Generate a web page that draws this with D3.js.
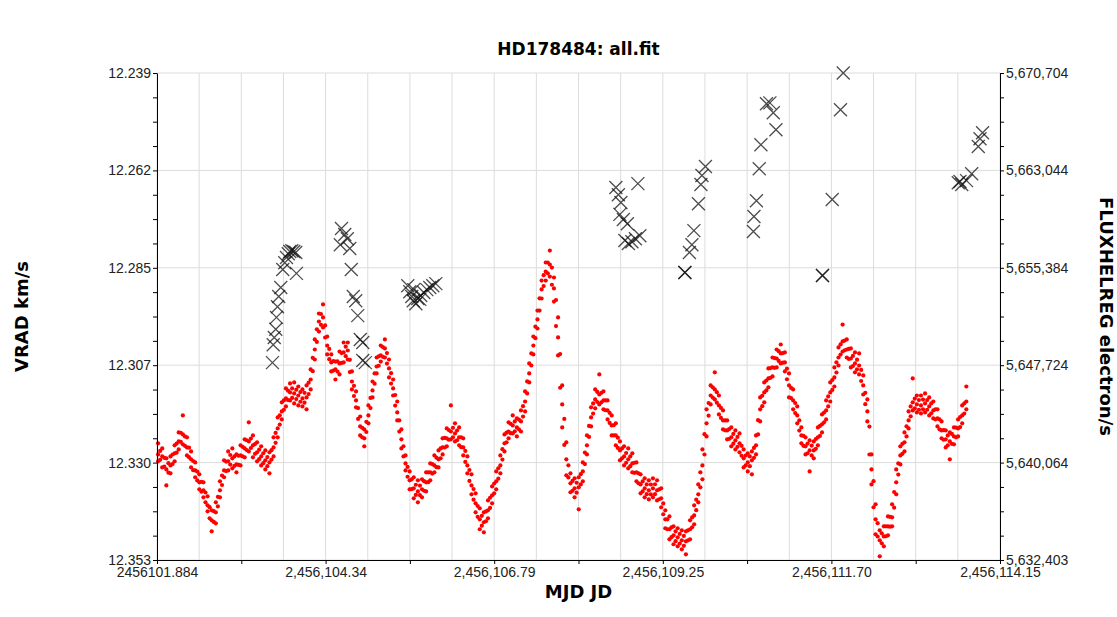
<!DOCTYPE html>
<html>
<head>
<meta charset="utf-8">
<script src="https://cdn.jsdelivr.net/npm/d3@7/dist/d3.min.js"></script>
<style>
  body { margin: 0; background: #fff; }
  svg { display: block; font-family: "DejaVu Sans", sans-serif; }
  .axis text { font-size: 14px; fill: #222; }
  .axis path, .axis line { stroke: #000; }
  .grid line { stroke: #dcdcdc; stroke-width: 1; }
  .title { font-size: 17px; font-weight: bold; }
  .label { font-size: 18px; font-weight: bold; }
</style>
</head>
<body>
<div id="chartDiv"></div>
<script>
// flux samples (right axis), band: upper, middle, lower edge per time
let fluxTime = [
  2456101.90, 2456101.96, 2456102.02, 2456102.08, 2456102.14, 2456102.20, 2456102.26, 2456102.32, 2456102.38, 2456102.44,
  2456102.50, 2456102.56, 2456102.62, 2456102.68, 2456102.74, 2456102.80, 2456102.86, 2456102.92, 2456102.98, 2456103.04,
  2456103.10, 2456103.16, 2456103.22, 2456103.28, 2456103.34, 2456103.40, 2456103.46, 2456103.52, 2456103.58, 2456103.64,
  2456103.70, 2456103.76, 2456103.82, 2456103.88, 2456103.94, 2456104.00, 2456104.06, 2456104.12, 2456104.18, 2456104.24,
  2456104.30, 2456104.36, 2456104.42, 2456104.48, 2456104.54, 2456104.60, 2456104.66, 2456104.72, 2456104.78, 2456104.84,
  2456104.90, 2456104.96, 2456105.02, 2456105.08, 2456105.14, 2456105.20, 2456105.26, 2456105.32, 2456105.38, 2456105.44,
  2456105.50, 2456105.56, 2456105.62, 2456105.68, 2456105.74, 2456105.80, 2456105.86, 2456105.92, 2456105.98, 2456106.04,
  2456106.10, 2456106.16, 2456106.22, 2456106.28, 2456106.34, 2456106.40, 2456106.46, 2456106.52, 2456106.58, 2456106.64,
  2456106.70, 2456106.76, 2456106.82, 2456106.88, 2456106.94, 2456107.00, 2456107.06, 2456107.12, 2456107.18, 2456107.24,
  2456107.30, 2456107.36, 2456107.42, 2456107.48, 2456107.54, 2456107.60, 2456107.66, 2456107.72, 2456107.78, 2456107.84,
  2456107.90, 2456107.96, 2456108.02, 2456108.08, 2456108.14, 2456108.20, 2456108.26, 2456108.32, 2456108.38, 2456108.44,
  2456108.50, 2456108.56, 2456108.62, 2456108.68, 2456108.74, 2456108.80, 2456108.86, 2456108.92, 2456108.98, 2456109.04,
  2456109.10, 2456109.16, 2456109.22, 2456109.28, 2456109.34, 2456109.40, 2456109.46, 2456109.52, 2456109.58, 2456109.64,
  2456109.70, 2456109.76, 2456109.82, 2456109.88, 2456109.94, 2456110.00, 2456110.06, 2456110.12, 2456110.18, 2456110.24,
  2456110.30, 2456110.36, 2456110.42, 2456110.48, 2456110.54, 2456110.60, 2456110.66, 2456110.72, 2456110.78, 2456110.84,
  2456110.90, 2456110.96, 2456111.02, 2456111.08, 2456111.14, 2456111.20, 2456111.26, 2456111.32, 2456111.38, 2456111.44,
  2456111.50, 2456111.56, 2456111.62, 2456111.68, 2456111.74, 2456111.80, 2456111.86, 2456111.92, 2456111.98, 2456112.04,
  2456112.10, 2456112.16, 2456112.22, 2456112.28, 2456112.34, 2456112.40, 2456112.46, 2456112.52, 2456112.58, 2456112.64,
  2456112.70, 2456112.76, 2456112.82, 2456112.88, 2456112.94, 2456113.00, 2456113.06, 2456113.12, 2456113.18, 2456113.24,
  2456113.30, 2456113.36, 2456113.42, 2456113.48, 2456113.54, 2456113.60, 2456113.66
];
let fluxHigh = [
  5641580, 5641180, 5640400, 5640550, 5641420, 5642440, 5643770, 5642050, 5640940, 5640080,
  5639140, 5638510, 5637410, 5636310, 5636940, 5638590, 5640240, 5640940, 5641180, 5640710,
  5641420, 5641890, 5643230, 5642200, 5641660, 5641340, 5641020, 5640870, 5642050, 5643620,
  5644800, 5645900, 5646290, 5646370, 5646050, 5645820, 5646130, 5647390, 5649750, 5651790,
  5652500, 5649980, 5648570, 5648010, 5648800, 5649510, 5649510, 5647230, 5645660, 5643690,
  5642670, 5644560, 5646440, 5648330, 5649270, 5649750, 5648170, 5646600, 5644870, 5642670,
  5640630, 5639370, 5638910, 5638670, 5638750, 5639300, 5640000, 5640630, 5641020, 5641970,
  5642750, 5644560, 5643150, 5642830, 5641970, 5640550, 5639140, 5637650, 5636470, 5636150,
  5637090, 5638190, 5639370, 5640630, 5642280, 5643230, 5643770, 5643540, 5644170, 5645660,
  5647860, 5649980, 5652020, 5654380, 5655800, 5656740, 5654620, 5651480, 5646130, 5641660,
  5639220, 5638830, 5638910, 5640080, 5642200, 5644410, 5645820, 5647000, 5645660, 5644950,
  5643770, 5643150, 5641730, 5641340, 5641180, 5640790, 5640080, 5639140, 5638830, 5638670,
  5638830, 5638670, 5638040, 5636310, 5635830, 5635050, 5634900, 5634740, 5634660, 5635520,
  5636700, 5638350, 5641100, 5644250, 5646130, 5647160, 5645340, 5644170, 5643380, 5642830,
  5642590, 5642360, 5641100, 5640790, 5640940, 5642200, 5645190, 5646370, 5647470, 5648330,
  5648960, 5649350, 5648730, 5647080, 5645820, 5644480, 5642830, 5642050, 5641810, 5641730,
  5642830, 5643850, 5644950, 5646370, 5647550, 5649120, 5650920, 5649750, 5649040, 5648730,
  5648650, 5646920, 5645030, 5640710, 5636780, 5634740, 5635050, 5635830, 5636780, 5639530,
  5641340, 5642440, 5644090, 5646680, 5645340, 5645340, 5645500, 5645190, 5644870, 5644250,
  5643300, 5642590, 5642440, 5642830, 5643460, 5644560, 5646050
];
let fluxMid = [
  5640710, 5640550, 5639530, 5639840, 5640790, 5641730, 5642280, 5641260, 5640320, 5639450,
  5638510, 5637880, 5636700, 5635520, 5636150, 5637880, 5639450, 5640160, 5640400, 5639920,
  5640630, 5641180, 5641730, 5641420, 5640870, 5640550, 5640240, 5640080, 5641260, 5642750,
  5644090, 5645110, 5645580, 5645500, 5645340, 5645110, 5645190, 5646600, 5648960, 5651160,
  5651480, 5649270, 5647940, 5647390, 5647860, 5648730, 5648880, 5646440, 5644950, 5642910,
  5641970, 5643770, 5645740, 5647620, 5648490, 5649040, 5647470, 5645900, 5644010, 5641890,
  5640000, 5638670, 5638040, 5637800, 5637960, 5638510, 5639300, 5639840, 5640320, 5641260,
  5641970, 5642510, 5642360, 5642050, 5641260, 5639840, 5638270, 5636860, 5635600, 5635370,
  5636310, 5637490, 5638590, 5639840, 5641580, 5642510, 5642990, 5642830, 5643300, 5644870,
  5647080, 5649270, 5651320, 5653680, 5655090, 5655640, 5653760, 5649910, 5644640, 5640320,
  5638430, 5638040, 5638120, 5639370, 5641420, 5643620, 5645030, 5645420, 5644950, 5644170,
  5642990, 5642200, 5641020, 5640550, 5640320, 5640000, 5639300, 5638350, 5638040, 5637880,
  5638040, 5637880, 5637250, 5635600, 5634820, 5634340, 5634190, 5633950, 5633870, 5634820,
  5635910, 5637570, 5639840, 5643150, 5645340, 5645820, 5644560, 5643380, 5642590, 5642050,
  5641810, 5641580, 5640400, 5640080, 5640240, 5641420, 5644250, 5645580, 5646680, 5647550,
  5648250, 5648650, 5647940, 5646130, 5644950, 5643770, 5642200, 5641340, 5641020, 5641020,
  5642050, 5643070, 5644170, 5645580, 5646760, 5648330, 5649590, 5648960, 5648250, 5647860,
  5647700, 5646130, 5644090, 5639530, 5635600, 5633950, 5634260, 5635050, 5635760, 5638510,
  5640630, 5641660, 5643380, 5644800, 5644640, 5644560, 5644720, 5644480, 5644170, 5643540,
  5642590, 5641890, 5641730, 5642120, 5642750, 5643770, 5644870
];
let fluxLow = [
  5640160, 5639680, 5638270, 5639220, 5640160, 5641100, 5641500, 5640630, 5639680, 5638910,
  5637960, 5637330, 5636230, 5634660, 5635290, 5637330, 5638910, 5639450, 5639610, 5639300,
  5639840, 5640480, 5640940, 5640480, 5640160, 5639840, 5639530, 5639220, 5640550, 5642050,
  5643460, 5644480, 5644950, 5644720, 5644560, 5644480, 5644250, 5645820, 5648170, 5650370,
  5650690, 5648570, 5647230, 5646600, 5647000, 5647940, 5648170, 5645820, 5644410, 5642200,
  5641340, 5643150, 5645190, 5647080, 5648010, 5648330, 5646760, 5645340, 5643380, 5641180,
  5639450, 5637960, 5637250, 5636940, 5637330, 5637800, 5638670, 5639300, 5639680, 5640710,
  5641340, 5641890, 5641730, 5641420, 5640630, 5639220, 5637570, 5636150, 5634820, 5634580,
  5635680, 5636860, 5637960, 5639220, 5640940, 5641970, 5642360, 5642120, 5642510, 5644090,
  5646370, 5648570, 5650610, 5652970, 5654380, 5654690, 5652730, 5648490, 5642830, 5639060,
  5637730, 5637330, 5636390, 5638590, 5640710, 5642910, 5644330, 5644640, 5644250, 5643460,
  5642200, 5641420, 5640240, 5639840, 5639610, 5639300, 5638590, 5637650, 5637330, 5637170,
  5637330, 5637090, 5636550, 5634900, 5634030, 5633640, 5633480, 5633240, 5632850, 5634030,
  5635210, 5636940, 5638750, 5642120, 5644640, 5645030, 5643850, 5642670, 5641890, 5641340,
  5641100, 5640870, 5639680, 5639370, 5639140, 5640710, 5643300, 5644800, 5645980, 5646840,
  5647550, 5647860, 5647230, 5645190, 5644250, 5643150, 5641580, 5640710, 5639370, 5640400,
  5641420, 5642440, 5643460, 5644870, 5646050, 5647700, 5648800, 5648330, 5647550, 5647160,
  5647000, 5645420, 5643300, 5638350, 5634420, 5632690, 5633480, 5634340, 5635050, 5637570,
  5639920, 5640940, 5642750, 5644170, 5644010, 5643930, 5644010, 5643770, 5643540, 5642910,
  5641970, 5641260, 5640320, 5641500, 5642120, 5643150, 5644250
];

// second set of band dots, read between the columns above
let fluxTime2 = [
  2456101.93, 2456101.99, 2456102.05, 2456102.11, 2456102.17, 2456102.23, 2456102.29, 2456102.35, 2456102.41, 2456102.47,
  2456102.53, 2456102.59, 2456102.65, 2456102.71, 2456102.77, 2456102.83, 2456102.89, 2456102.95, 2456103.01, 2456103.07,
  2456103.13, 2456103.19, 2456103.25, 2456103.31, 2456103.37, 2456103.43, 2456103.49, 2456103.55, 2456103.61, 2456103.67,
  2456103.73, 2456103.79, 2456103.85, 2456103.91, 2456103.97, 2456104.03, 2456104.09, 2456104.15, 2456104.21, 2456104.27,
  2456104.33, 2456104.39, 2456104.45, 2456104.51, 2456104.57, 2456104.63, 2456104.69, 2456104.75, 2456104.81, 2456104.87,
  2456104.93, 2456104.99, 2456105.05, 2456105.11, 2456105.17, 2456105.23, 2456105.29, 2456105.35, 2456105.41, 2456105.47,
  2456105.53, 2456105.59, 2456105.65, 2456105.71, 2456105.77, 2456105.83, 2456105.89, 2456105.95, 2456106.01, 2456106.07,
  2456106.13, 2456106.19, 2456106.25, 2456106.31, 2456106.37, 2456106.43, 2456106.49, 2456106.55, 2456106.61, 2456106.67,
  2456106.73, 2456106.79, 2456106.85, 2456106.91, 2456106.97, 2456107.03, 2456107.09, 2456107.15, 2456107.21, 2456107.27,
  2456107.33, 2456107.39, 2456107.45, 2456107.51, 2456107.57, 2456107.63, 2456107.69, 2456107.75, 2456107.81, 2456107.87,
  2456107.93, 2456107.99, 2456108.05, 2456108.11, 2456108.17, 2456108.23, 2456108.29, 2456108.35, 2456108.41, 2456108.47,
  2456108.53, 2456108.59, 2456108.65, 2456108.71, 2456108.77, 2456108.83, 2456108.89, 2456108.95, 2456109.01, 2456109.07,
  2456109.13, 2456109.19, 2456109.25, 2456109.31, 2456109.37, 2456109.43, 2456109.49, 2456109.55, 2456109.61, 2456109.67,
  2456109.73, 2456109.79, 2456109.85, 2456109.91, 2456109.97, 2456110.03, 2456110.09, 2456110.15, 2456110.21, 2456110.27,
  2456110.33, 2456110.39, 2456110.45, 2456110.51, 2456110.57, 2456110.63, 2456110.69, 2456110.75, 2456110.81, 2456110.87,
  2456110.93, 2456110.99, 2456111.05, 2456111.11, 2456111.17, 2456111.23, 2456111.29, 2456111.35, 2456111.41, 2456111.47,
  2456111.53, 2456111.59, 2456111.65, 2456111.71, 2456111.77, 2456111.83, 2456111.89, 2456111.95, 2456112.01, 2456112.07,
  2456112.13, 2456112.19, 2456112.25, 2456112.31, 2456112.37, 2456112.43, 2456112.49, 2456112.55, 2456112.61, 2456112.67,
  2456112.73, 2456112.79, 2456112.85, 2456112.91, 2456112.97, 2456113.03, 2456113.09, 2456113.15, 2456113.21, 2456113.27,
  2456113.33, 2456113.39, 2456113.45, 2456113.51, 2456113.57, 2456113.63
];
let fluxUpperQ = [
  5640980, 5640440, 5640020, 5640700, 5641560, 5642410, 5642120, 5641240, 5640190, 5639360,
  5638550, 5637710, 5636560, 5636240, 5637370, 5639050, 5640140, 5640660, 5640550, 5640600,
  5641300, 5641820, 5641950, 5641520, 5641080, 5640800, 5640500, 5641040, 5642400, 5643780,
  5644950, 5645720, 5645900, 5645800, 5645610, 5645550, 5646350, 5648300, 5650550, 5651750,
  5650850, 5649000, 5648050, 5648020, 5648680, 5649180, 5648150, 5646100, 5644350, 5642800,
  5643270, 5645150, 5647080, 5648420, 5649150, 5648680, 5647100, 5645380, 5643380, 5641350,
  5639720, 5638750, 5638320, 5638260, 5638600, 5639300, 5639950, 5640450, 5641180, 5642000,
  5642620, 5642800, 5642580, 5642050, 5640980, 5639480, 5637980, 5636650, 5635880, 5636220,
  5637300, 5638420, 5639620, 5641120, 5642420, 5643120, 5643300, 5643450, 5644500, 5646450,
  5648650, 5650750, 5652980, 5654800, 5655800, 5655400, 5652850, 5648600, 5643500, 5639850,
  5638620, 5638480, 5639150, 5640850, 5642950, 5644720, 5645620, 5645550, 5644950, 5643980,
  5643000, 5642020, 5641180, 5640820, 5640550, 5640050, 5639220, 5638580, 5638350, 5638340,
  5638360, 5637950, 5636850, 5635600, 5634970, 5634660, 5634450, 5634300, 5634740, 5635750,
  5637150, 5639300, 5642300, 5644750, 5645980, 5645600, 5644360, 5643380, 5642700, 5642320,
  5642080, 5641380, 5640620, 5640550, 5641220, 5643400, 5645320, 5646520, 5647500, 5648280,
  5648830, 5648680, 5647450, 5645940, 5644750, 5643380, 5642160, 5641560, 5641400, 5641920,
  5642950, 5644000, 5645270, 5646560, 5647950, 5649360, 5649660, 5649000, 5648450, 5648160,
  5647350, 5645550, 5642900, 5638600, 5635300, 5634500, 5635050, 5635800, 5637750, 5640000,
  5641540, 5642920, 5644480, 5645100, 5644980, 5645020, 5644980, 5644720, 5644250, 5643460,
  5642620, 5642200, 5642320, 5642820, 5643650, 5644720
];
let fluxLowerQ = [
  5640280, 5639740, 5639270, 5639950, 5640840, 5641700, 5641380, 5640490, 5639470, 5638660,
  5637780, 5636940, 5635680, 5635400, 5636620, 5638300, 5639400, 5639910, 5639800, 5639880,
  5640550, 5641050, 5641210, 5640750, 5640330, 5640020, 5639780, 5640300, 5641620, 5643050,
  5644220, 5644980, 5645150, 5645060, 5644850, 5644780, 5645450, 5647250, 5649550, 5650900,
  5649900, 5648200, 5647300, 5647220, 5647900, 5648430, 5647180, 5645300, 5643500, 5642050,
  5642470, 5644350, 5646270, 5647680, 5648380, 5647850, 5646280, 5644550, 5642500, 5640550,
  5638950, 5637980, 5637520, 5637500, 5637850, 5638520, 5639200, 5639700, 5640400, 5641250,
  5641860, 5642050, 5641820, 5641280, 5640120, 5638620, 5637150, 5635800, 5635100, 5635450,
  5636500, 5637650, 5638800, 5640300, 5641660, 5642380, 5642520, 5642680, 5643680, 5645500,
  5647700, 5649850, 5652020, 5653950, 5654950, 5654050, 5650800, 5645950, 5641450, 5638900,
  5637850, 5637700, 5638350, 5639950, 5642080, 5643920, 5644830, 5644800, 5644180, 5643180,
  5642200, 5641220, 5640400, 5640050, 5639780, 5639260, 5638440, 5637800, 5637580, 5637560,
  5637580, 5637180, 5636000, 5634820, 5634200, 5633880, 5633700, 5633520, 5633950, 5634980,
  5636320, 5638120, 5640700, 5643750, 5645180, 5644780, 5643580, 5642600, 5641930, 5641550,
  5641300, 5640600, 5639850, 5639780, 5640440, 5642280, 5644500, 5645740, 5646730, 5647520,
  5648060, 5647920, 5646620, 5645140, 5643960, 5642580, 5641380, 5640800, 5640630, 5641150,
  5642160, 5643230, 5644480, 5645780, 5647150, 5648560, 5648900, 5648220, 5647660, 5647400,
  5646480, 5644660, 5640700, 5636550, 5634250, 5633720, 5634270, 5635020, 5636520, 5639120,
  5640750, 5642120, 5643700, 5644330, 5644220, 5644250, 5644220, 5643940, 5643470, 5642680,
  5641860, 5641420, 5641540, 5642050, 5642860, 5643920
];

// radial velocity points (left axis, inverted)
let vradTime = [
  2456103.564, 2456103.575, 2456103.590, 2456103.612, 2456103.622, 2456103.637, 2456103.655, 2456103.685,
  2456103.714, 2456103.743, 2456103.768, 2456103.794, 2456103.816, 2456103.845, 2456103.874, 2456103.903, 2456103.913,
  2456104.568, 2456104.616, 2456104.653, 2456104.551, 2456104.689, 2456104.711, 2456104.740, 2456104.776,
  2456104.805, 2456104.842, 2456104.878, 2456104.878, 2456104.915,
  2456105.533, 2456105.562, 2456105.591, 2456105.613, 2456105.650, 2456105.679, 2456105.722, 2456105.766,
  2456105.810, 2456105.853, 2456105.897, 2456105.941, 2456105.621, 2456105.708,
  2456108.561, 2456108.597, 2456108.881, 2456108.634, 2456108.619, 2456108.670, 2456108.728, 2456108.692,
  2456108.743, 2456108.794, 2456108.845, 2456108.910,
  2456109.565, 2456109.565, 2456109.631, 2456109.667, 2456109.696, 2456109.762, 2456109.798, 2456109.813, 2456109.864,
  2456110.562, 2456110.570, 2456110.606, 2456110.647, 2456110.671, 2456110.752, 2456110.802, 2456110.851, 2456110.890,
  2456111.567, 2456111.567, 2456111.709, 2456111.829, 2456111.869,
  2456113.543, 2456113.568, 2456113.593, 2456113.663, 2456113.738, 2456113.834, 2456113.859, 2456113.896
];
let vradValue = [
  12.3068, 12.3026, 12.3009, 12.2990, 12.2962, 12.2937, 12.2913, 12.2892,
  12.2850, 12.2834, 12.2822, 12.2813, 12.2808, 12.2806, 12.2808, 12.2810, 12.2859,
  12.2754, 12.2768, 12.2778, 12.2792, 12.2801, 12.2850, 12.2913, 12.2923,
  12.2958, 12.3014, 12.3021, 12.3063, 12.3068,
  12.2888, 12.2902, 12.2913, 12.2923, 12.2930, 12.2918, 12.2911, 12.2904,
  12.2897, 12.2892, 12.2888, 12.2883, 12.2897, 12.2920,
  12.2658, 12.2675, 12.2649, 12.2693, 12.2721, 12.2733, 12.2743, 12.2782,
  12.2789, 12.2785, 12.2778, 12.2771,
  12.2857, 12.2857, 12.2810, 12.2792, 12.2759, 12.2696, 12.2651, 12.2630, 12.2609,
  12.2761, 12.2726, 12.2689, 12.2614, 12.2558, 12.2462, 12.2460, 12.2483, 12.2523,
  12.2864, 12.2864, 12.2686, 12.2476, 12.2390,
  12.2647, 12.2644, 12.2651, 12.2642, 12.2626, 12.2562, 12.2544, 12.2530
];

// axis ranges and tick labels as printed
let xDomain = [2456101.884, 2456114.15];
let vradDomain = [12.239, 12.353];
let fluxDomain = [5632403, 5670704];
let xTickLabels = ['2456101.884', '2,456,104.34', '2,456,106.79', '2,456,109.25', '2,456,111.70', '2,456,114.15'];
let vradTickLabels = ['12.239', '12.262', '12.285', '12.307', '12.330', '12.353'];
let fluxTickLabels = ['5,632,403', '5,640,064', '5,647,724', '5,655,384', '5,663,044', '5,670,704'];

let W = 1117, H = 617;
let margin = {top: 73, right: 117, bottom: 57, left: 157};
let width = W - margin.left - margin.right;
let height = H - margin.top - margin.bottom;

let svg = d3.select('#chartDiv')
    .append('svg')
    .attr('width', W)
    .attr('height', H);

let g = svg.append('g')
    .attr('transform', 'translate(' + margin.left + ',' + margin.top + ')');

let xScale = d3.scaleLinear().domain(xDomain).range([0, width]);
let yLeft = d3.scaleLinear().domain(vradDomain).range([0, height]);
let yRight = d3.scaleLinear().domain(fluxDomain).range([height, 0]);

// grid: 20 columns, 5 rows
let xGrid = d3.range(21).map(function(i) {return xDomain[0] + i * (xDomain[1] - xDomain[0]) / 20});
let yGrid = d3.range(6).map(function(i) {return vradDomain[0] + i * (vradDomain[1] - vradDomain[0]) / 5});
let yMinor = d3.range(21).map(function(i) {return vradDomain[0] + i * (vradDomain[1] - vradDomain[0]) / 20});
let fMinor = d3.range(21).map(function(i) {return fluxDomain[0] + i * (fluxDomain[1] - fluxDomain[0]) / 20});

let grid = g.append('g').attr('class', 'grid');
grid.selectAll('line.v')
    .data(xGrid)
    .enter()
    .append('line')
    .attr('class', 'v')
    .attr('x1', function(d) {return xScale(d)})
    .attr('x2', function(d) {return xScale(d)})
    .attr('y1', 0)
    .attr('y2', height);
grid.selectAll('line.h')
    .data(yGrid)
    .enter()
    .append('line')
    .attr('class', 'h')
    .attr('x1', 0)
    .attr('x2', width)
    .attr('y1', function(d) {return yLeft(d)})
    .attr('y2', function(d) {return yLeft(d)});

// red flux dots
let dots = [];
fluxTime.forEach(function(t, i) {
    dots.push([t, fluxHigh[i]]);
    dots.push([t, fluxMid[i]]);
    dots.push([t, fluxLow[i]]);
});
fluxTime2.forEach(function(t, i) {
    dots.push([t, fluxUpperQ[i]]);
    dots.push([t, fluxLowerQ[i]]);
});
g.append('g')
    .selectAll('circle')
    .data(dots)
    .enter()
    .append('circle')
    .attr('cx', function(d) {return xScale(d[0])})
    .attr('cy', function(d) {return yRight(d[1])})
    .attr('r', 2.1)
    .attr('fill', '#ff0000');

// black crosses for VRAD
g.append('g')
    .selectAll('path')
    .data(vradTime)
    .enter()
    .append('path')
    .attr('transform', function(d, i) {return 'translate(' + xScale(d) + ',' + yLeft(vradValue[i]) + ')'})
    .attr('d', 'M-6.5,-6.5L6.5,6.5M-6.5,6.5L6.5,-6.5')
    .attr('stroke', '#111')
    .attr('stroke-width', 1.3)
    .attr('stroke-opacity', 0.75)
    .attr('fill', 'none');

// axes
g.append('g')
    .attr('class', 'axis')
    .attr('transform', 'translate(0,' + height + ')')
    .call(d3.axisBottom(xScale)
        .tickValues(xGrid.filter(function(d, i) {return i % 2 === 0}))
        .tickSize(4).tickSizeOuter(0).tickPadding(3)
        .tickFormat(function(d, i) {return i % 2 === 0 ? xTickLabels[i / 2] : ''}));

g.append('g')
    .attr('class', 'axis')
    .call(d3.axisLeft(yLeft)
        .tickValues(yMinor)
        .tickSize(4).tickSizeOuter(0).tickPadding(2)
        .tickFormat(function(d, i) {return i % 4 === 0 ? vradTickLabels[i / 4] : ''}));

g.append('g')
    .attr('class', 'axis')
    .attr('transform', 'translate(' + width + ',0)')
    .call(d3.axisRight(yRight)
        .tickValues(fMinor)
        .tickSize(4).tickSizeOuter(0).tickPadding(2)
        .tickFormat(function(d, i) {return i % 4 === 0 ? fluxTickLabels[i / 4] : ''}));

// titles
svg.append('text')
    .attr('class', 'title')
    .attr('x', margin.left + width / 2)
    .attr('y', 55)
    .attr('text-anchor', 'middle')
    .text('HD178484: all.fit');

svg.append('text')
    .attr('class', 'label')
    .attr('x', margin.left + width / 2)
    .attr('y', 598)
    .attr('text-anchor', 'middle')
    .text('MJD JD');

svg.append('text')
    .attr('class', 'label')
    .attr('transform', 'translate(21,' + (margin.top + height / 2) + ') rotate(-90)')
    .attr('text-anchor', 'middle')
    .attr('dominant-baseline', 'central')
    .text('VRAD km/s');

svg.append('text')
    .attr('class', 'label')
    .attr('transform', 'translate(1106,' + (margin.top + height / 2) + ') rotate(90)')
    .attr('text-anchor', 'middle')
    .attr('dominant-baseline', 'central')
    .text('FLUXHELREG electron/s');
</script>
</body>
</html>
